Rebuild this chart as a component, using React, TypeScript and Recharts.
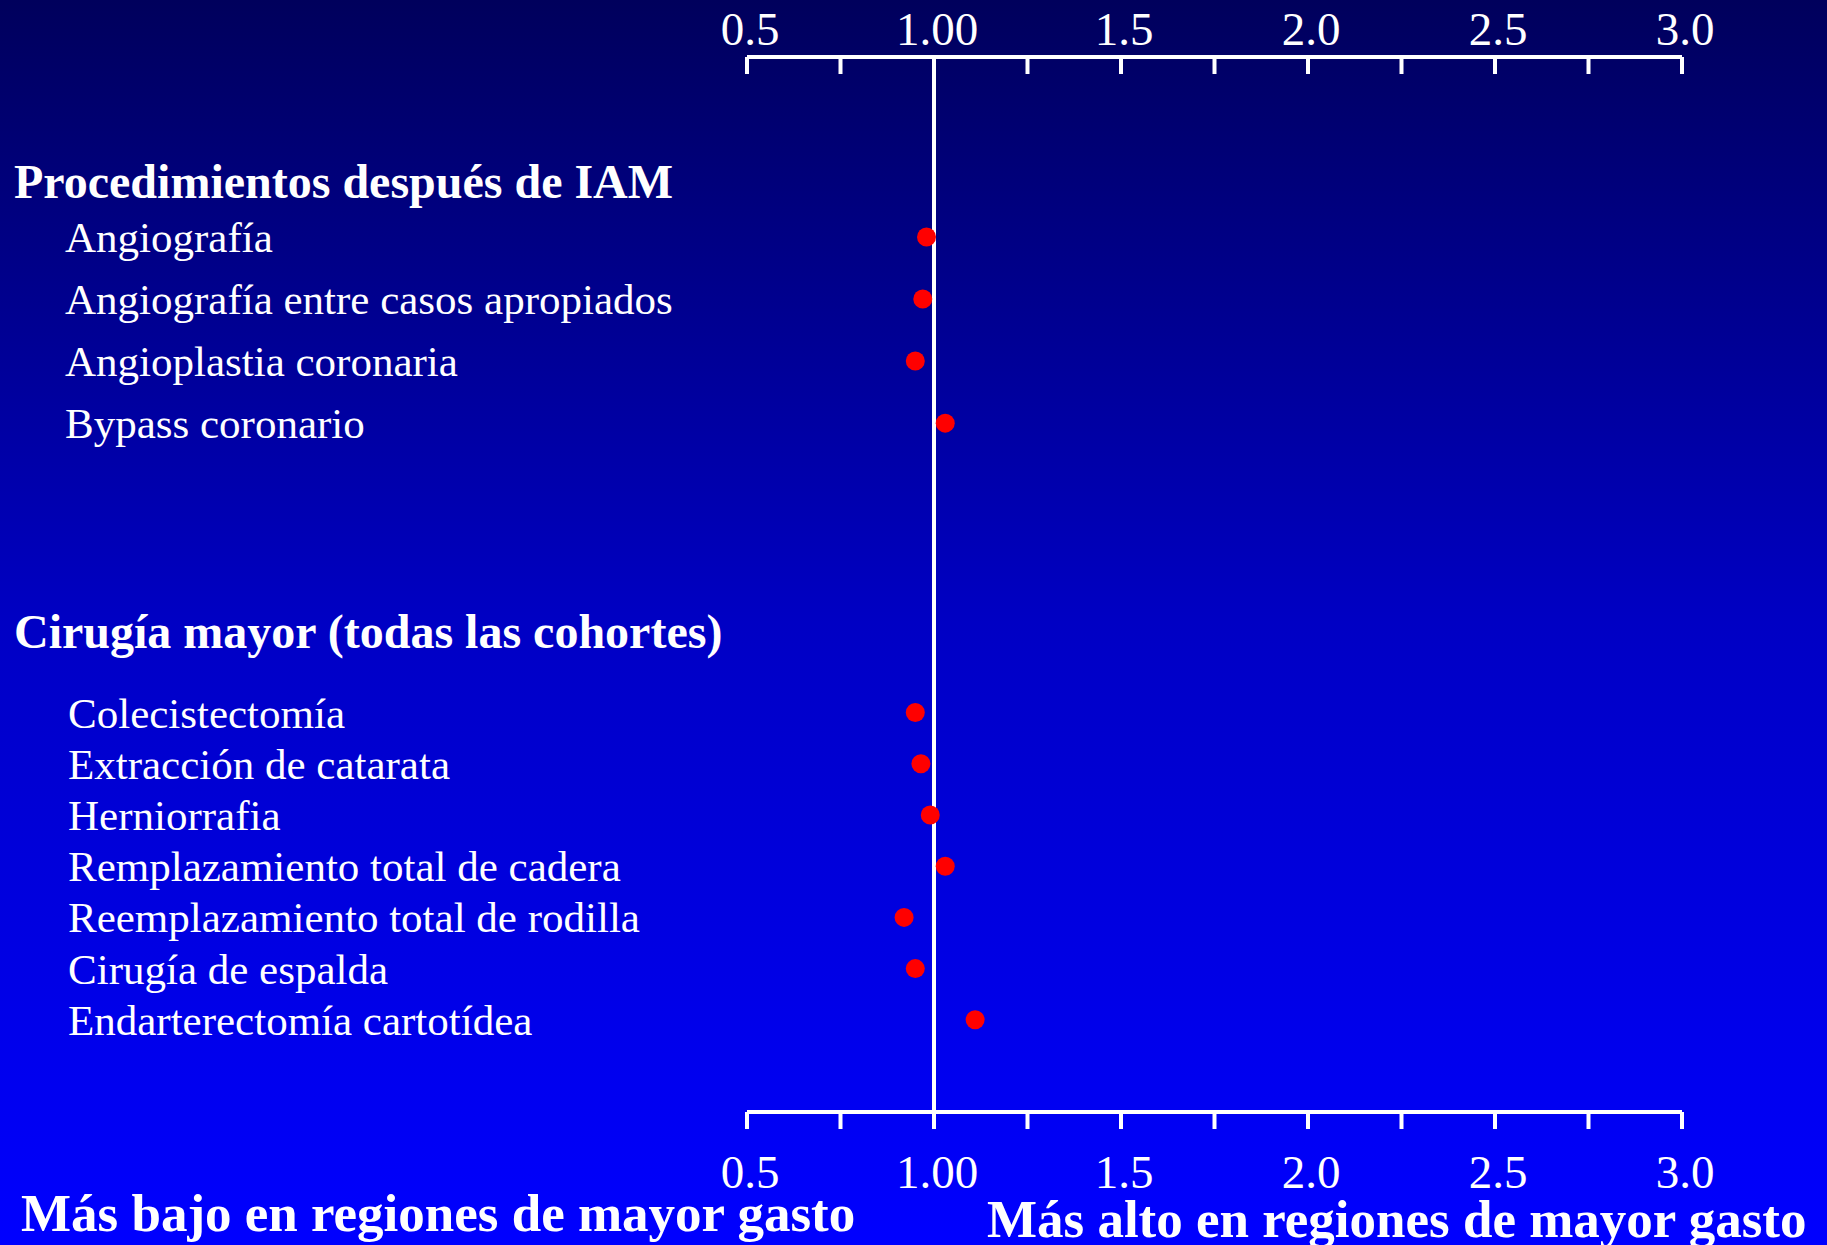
import React from 'react';
import { ScatterChart, Scatter, XAxis, YAxis, ReferenceLine } from 'recharts';

// Ratios by procedure (higher-spending regions vs. lower-spending regions)
const IAM_TITLE = 'Procedimientos después de IAM';
const IAM_LABELS = [
  'Angiografía',
  'Angiografía entre casos apropiados',
  'Angioplastia coronaria',
  'Bypass coronario',
];
const IAM_VALUES = [0.98, 0.97, 0.95, 1.03];

const SURGERY_TITLE = 'Cirugía mayor (todas las cohortes)';
const SURGERY_LABELS = [
  'Colecistectomía',
  'Extracción de catarata',
  'Herniorrafia',
  'Remplazamiento total de cadera',
  'Reemplazamiento total de rodilla',
  'Cirugía de espalda',
  'Endarterectomía cartotídea',
];
const SURGERY_VALUES = [0.95, 0.965, 0.99, 1.03, 0.92, 0.95, 1.11];

const X_TICKS = [0.5, 0.75, 1, 1.25, 1.5, 1.75, 2, 2.25, 2.5, 2.75, 3];
const X_TICK_LABELS = ['0.5', '', '1.00', '', '1.5', '', '2.0', '', '2.5', '', '3.0'];

const LOWER_CAPTION = 'Más bajo en regiones de mayor gasto';
const HIGHER_CAPTION = 'Más alto en regiones de mayor gasto';

const W = 1827;
const H = 1245;
const TOP_AXIS_Y = 57;
const BOTTOM_AXIS_Y = 1112;
const PLOT_LEFT = 747;
const PLOT_RIGHT = 1682;
const FONT = '"Liberation Serif", "Times New Roman", serif';

const iamData = IAM_VALUES.map((v, i) => ({ ratio: v, row: i + 1 }));
const surgeryData = SURGERY_VALUES.map((v, i) => ({ ratio: v, row: i + 1 }));
const iamRows = IAM_LABELS.map((_, i) => i + 1);
const surgeryRows = SURGERY_LABELS.map((_, i) => i + 1);

function xTick(side: 'top' | 'bottom') {
  return (props: any) => {
    const { x, payload } = props;
    const label = X_TICK_LABELS[X_TICKS.indexOf(payload.value)] || '';
    const y0 = side === 'top' ? TOP_AXIS_Y : BOTTOM_AXIS_Y;
    return (
      <g>
        <line x1={x} x2={x} y1={y0} y2={y0 + 17} stroke="#fff" strokeWidth={4} />
        {label && (
          <text
            x={x + 3}
            y={side === 'top' ? 45 : 1188}
            textAnchor="middle"
            fill="#fff"
            fontFamily={FONT}
            fontSize={47}
          >
            {label}
          </text>
        )}
      </g>
    );
  };
}

// procedure names live on the hidden row axes, so each label follows its row
function rowTick(labels: string[], left: number) {
  return (props: any) => {
    const { y, payload } = props;
    return (
      <text x={left} y={y + 15} fill="#fff" fontFamily={FONT} fontSize={43} textAnchor="start">
        {labels[payload.value - 1]}
      </text>
    );
  };
}

const Dot = (props: any) => <circle cx={props.cx} cy={props.cy} r={9.5} fill="#ff0000" />;

export default function App() {
  return (
    <div
      style={{
        position: 'absolute',
        left: 0,
        top: 0,
        width: W,
        height: H,
        overflow: 'hidden',
        background: 'linear-gradient(to bottom, #00005c 0%, #0000c4 50%, #0000ff 100%)',
      }}
    >
      <ScatterChart
        width={W}
        height={H}
        margin={{ top: 0, right: W - PLOT_RIGHT, bottom: 0, left: PLOT_LEFT - 2 }}
      >
        <XAxis
          xAxisId="top"
          orientation="top"
          type="number"
          dataKey="ratio"
          domain={[0.5, 3]}
          ticks={X_TICKS}
          interval={0}
          allowDataOverflow
          height={TOP_AXIS_Y}
          axisLine={{ stroke: '#fff', strokeWidth: 4 }}
          tickLine={false}
          tick={xTick('top')}
        />
        <XAxis
          xAxisId="bottom"
          orientation="bottom"
          type="number"
          dataKey="ratio"
          domain={[0.5, 3]}
          ticks={X_TICKS}
          interval={0}
          allowDataOverflow
          height={H - BOTTOM_AXIS_Y}
          axisLine={{ stroke: '#fff', strokeWidth: 4 }}
          tickLine={false}
          tick={xTick('bottom')}
        />
        <YAxis
          yAxisId="iam"
          type="number"
          dataKey="row"
          domain={[-1.9, 15.1]}
          reversed
          ticks={iamRows}
          interval={0}
          width={1}
          axisLine={false}
          tickLine={false}
          tick={rowTick(IAM_LABELS, 65)}
        />
        <YAxis
          yAxisId="cir"
          type="number"
          dataKey="row"
          domain={[-11.8, 8.8]}
          reversed
          ticks={surgeryRows}
          interval={0}
          width={1}
          axisLine={false}
          tickLine={false}
          tick={rowTick(SURGERY_LABELS, 68)}
        />
        <ReferenceLine x={1} xAxisId="top" yAxisId="iam" stroke="#fff" strokeWidth={4} />
        <Scatter
          data={iamData}
          xAxisId="top"
          yAxisId="iam"
          shape={Dot}
          isAnimationActive={false}
        />
        <Scatter
          data={surgeryData}
          xAxisId="bottom"
          yAxisId="cir"
          shape={Dot}
          isAnimationActive={false}
        />
      </ScatterChart>
      <svg
        width={W}
        height={H}
        style={{ position: 'absolute', left: 0, top: 0, pointerEvents: 'none' }}
      >
        <g fill="#fff" fontFamily={FONT} fontWeight="bold">
          <text x={14} y={198} fontSize={48}>{IAM_TITLE}</text>
          <text x={14} y={648} fontSize={48}>{SURGERY_TITLE}</text>
          <text x={21} y={1231} fontSize={53}>{LOWER_CAPTION}</text>
          <text x={987} y={1237} fontSize={53}>{HIGHER_CAPTION}</text>
        </g>
      </svg>
    </div>
  );
}
